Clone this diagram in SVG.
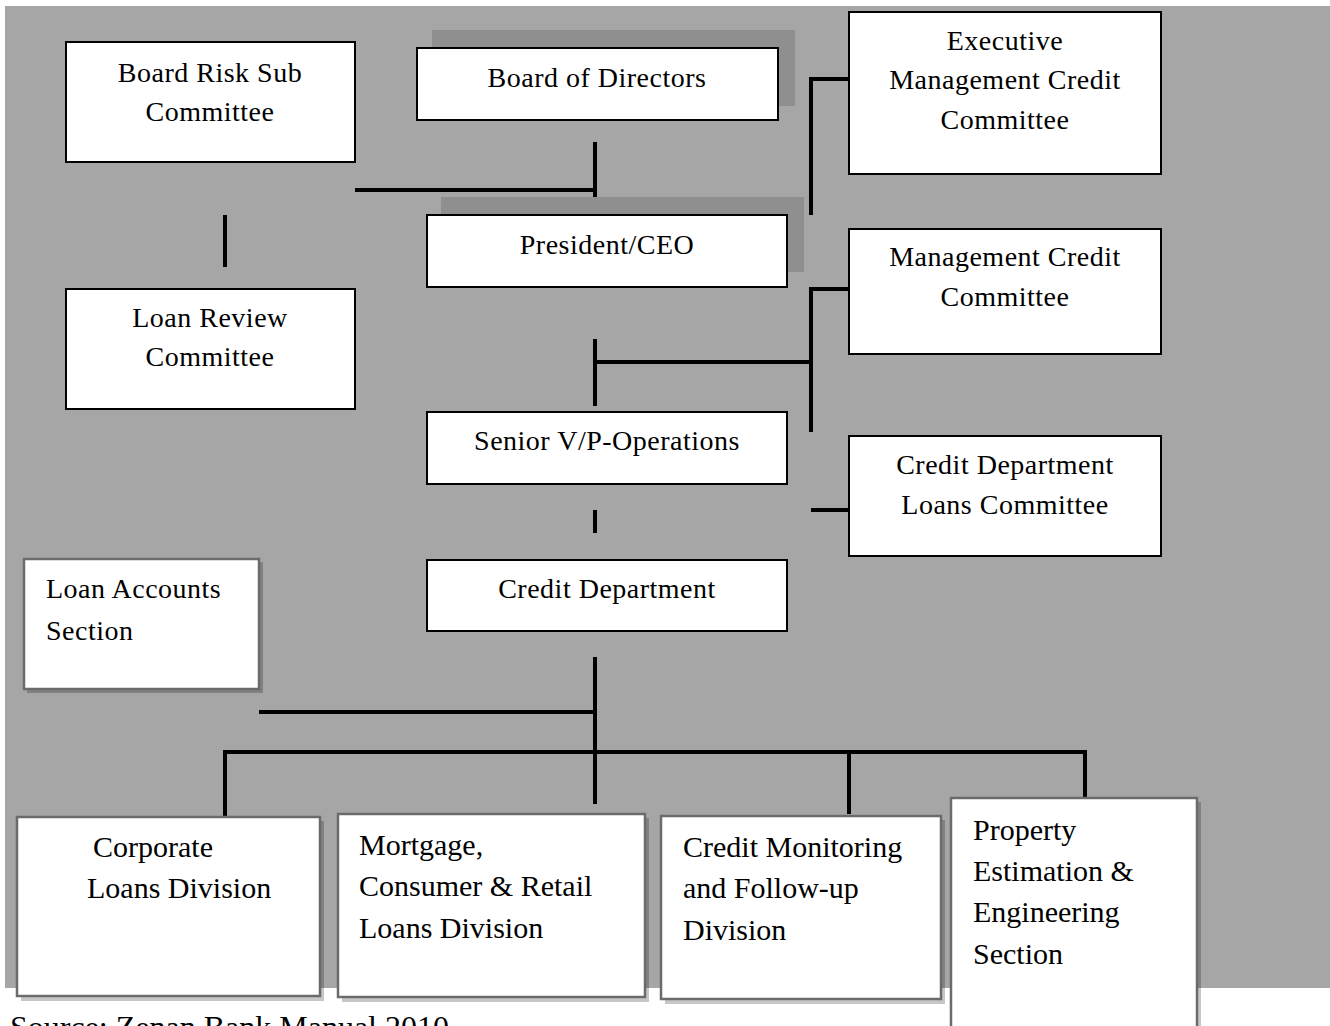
<svg xmlns="http://www.w3.org/2000/svg" width="1330" height="1026" viewBox="0 0 1330 1026">
<style>
.bx{fill:#fff;stroke:#000;stroke-width:2}
.bx2{fill:#fff;stroke:#6b6b6b;stroke-width:2.5}
.sh{fill:#000;fill-opacity:0.22}
.bk{fill:#8f8f8f}
.t{font-family:"Liberation Serif",serif;font-size:28px;fill:#000;letter-spacing:0.5px}
.c{text-anchor:middle}
.tb{font-family:"Liberation Serif",serif;font-size:30px;fill:#000}
.ln{stroke:#000;stroke-width:4;fill:none}
</style>
<rect x="0" y="0" width="1330" height="1026" fill="#fff"/>
<rect x="5" y="6" width="1325" height="982" fill="#a6a6a6"/>

<g id="connectors">
<path class="ln" d="M355 190H597M595 142V213"/>
<path class="ln" d="M225 215V267"/>
<path class="ln" d="M849 79H811V215"/>
<path class="ln" d="M849 289H811V432M811 362H595M595 339V406"/>
<path class="ln" d="M811 510H849"/>
<path class="ln" d="M595 510V533"/>
<path class="ln" d="M595 657V804M259 712H595M225 817V752H1085V799M849 752V814"/>
</g>

<g id="board-risk">
<rect class="bx" x="66" y="42" width="289" height="120"/>
<text class="t c" x="210" y="82">Board Risk Sub</text>
<text class="t c" x="210" y="121">Committee</text>
</g>

<g id="board-directors">
<rect class="bk" x="432" y="30" width="363" height="76"/>
<rect class="bx" x="417" y="48" width="361" height="72"/>
<text class="t c" x="597" y="87">Board of Directors</text>
</g>

<g id="president">
<rect class="bk" x="441" y="197" width="363" height="75"/>
<rect class="bx" x="427" y="215" width="360" height="72"/>
<text class="t c" x="607" y="254">President/CEO</text>
</g>

<g id="exec-mgmt-credit">
<rect class="bx" x="849" y="12" width="312" height="162"/>
<text class="t c" x="1005" y="50">Executive</text>
<text class="t c" x="1005" y="89">Management Credit</text>
<text class="t c" x="1005" y="129">Committee</text>
</g>

<g id="mgmt-credit">
<rect class="bx" x="849" y="229" width="312" height="125"/>
<text class="t c" x="1005" y="266">Management Credit</text>
<text class="t c" x="1005" y="306">Committee</text>
</g>

<g id="loan-review">
<rect class="bx" x="66" y="289" width="289" height="120"/>
<text class="t c" x="210" y="327">Loan Review</text>
<text class="t c" x="210" y="366">Committee</text>
</g>

<g id="senior-vp">
<rect class="bx" x="427" y="412" width="360" height="72"/>
<text class="t c" x="607" y="450">Senior V/P-Operations</text>
</g>

<g id="credit-dept-loans">
<rect class="bx" x="849" y="436" width="312" height="120"/>
<text class="t c" x="1005" y="474">Credit Department</text>
<text class="t c" x="1005" y="514">Loans Committee</text>
</g>

<g id="credit-dept">
<rect class="bx" x="427" y="560" width="360" height="71"/>
<text class="t c" x="607" y="598">Credit Department</text>
</g>

<g id="loan-accounts">
<rect class="sh" x="27" y="562" width="236" height="131"/>
<rect class="bx2" x="24" y="559" width="235" height="130"/>
<text class="t" x="46" y="598">Loan Accounts</text>
<text class="t" x="46" y="640">Section</text>
</g>

<g id="corporate">
<rect class="sh" x="21" y="821" width="303" height="180"/>
<rect class="bx2" x="17" y="817" width="303" height="179"/>
<text class="tb" x="93" y="857">Corporate</text>
<text class="tb" x="87" y="898">Loans Division</text>
</g>

<g id="mortgage">
<rect class="sh" x="342" y="818" width="307" height="184"/>
<rect class="bx2" x="338" y="814" width="307" height="183"/>
<text class="tb" x="359" y="855">Mortgage,</text>
<text class="tb" x="359" y="896">Consumer &amp; Retail</text>
<text class="tb" x="359" y="938">Loans Division</text>
</g>

<g id="credit-monitoring">
<rect class="sh" x="665" y="820" width="280" height="184"/>
<rect class="bx2" x="661" y="816" width="280" height="183"/>
<text class="tb" x="683" y="857">Credit Monitoring</text>
<text class="tb" x="683" y="898">and Follow-up</text>
<text class="tb" x="683" y="940">Division</text>
</g>

<g id="property">
<rect class="sh" x="955" y="802" width="246" height="240"/>
<rect class="bx2" x="951" y="798" width="246" height="240"/>
<text class="tb" x="973" y="840">Property</text>
<text class="tb" x="973" y="881">Estimation &amp;</text>
<text class="tb" x="973" y="922">Engineering</text>
<text class="tb" x="973" y="964">Section</text>
</g>

<text x="10" y="1038" font-family="'Liberation Serif',serif" font-size="32" fill="#000">Source: Zenan Bank Manual 2010</text>
</svg>
